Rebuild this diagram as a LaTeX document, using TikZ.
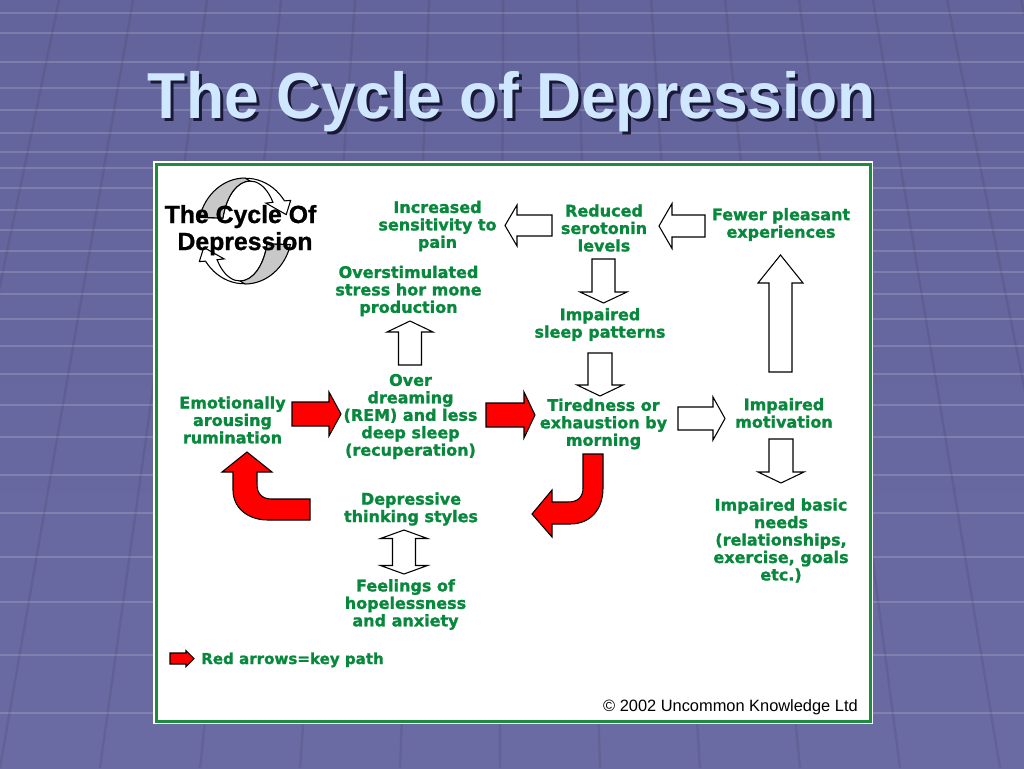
\documentclass[tikz,border=0pt]{standalone}
\usepackage{fontspec}
\newfontfamily\djfont{DejaVu Sans}[BoldFeatures={FakeBold=1.3}]
\newfontfamily\libfont{Liberation Sans}
\newfontfamily\libheavy{Liberation Sans}[BoldFeatures={FakeBold=1.0}]
\definecolor{tgreen}{RGB}{8,136,60}
\definecolor{bgtop}{RGB}{100,100,156}
\definecolor{bgmid}{RGB}{80,80,130}
\definecolor{bgbot}{RGB}{107,107,163}
\definecolor{panelgreen}{RGB}{30,140,60}
\definecolor{titleblue}{RGB}{208,232,255}
\definecolor{titleshadow}{RGB}{25,25,55}
\definecolor{ribbongray}{RGB}{200,200,200}
\tikzset{
  lbl/.style={font=\djfont\bfseries\fontsize{12}{13.1}\selectfont, text=tgreen, align=center, inner sep=0pt},
  hollow/.style={fill=white, draw=black, line width=0.8pt, line join=miter},
  redarr/.style={fill=red, draw=black, line width=0.8pt, line join=miter},
  gridh/.style={white, opacity=0.16, line width=1.3pt},
  gridd/.style={black, opacity=0.08, line width=1.8pt},
  pics/barrow/.style args={#1/#2/#3/#4/#5}{code={
    \path[#5] (0,-#2) -- ({#1-#4},-#2) -- ({#1-#4},-#3) -- (#1,0) -- ({#1-#4},#3) -- ({#1-#4},#2) -- (0,#2) -- cycle;}},
  pics/dbarrow/.style args={#1/#2/#3/#4/#5}{code={
    \path[#5] (0,0) -- (#4,-#3) -- (#4,-#2) -- ({#1-#4},-#2) -- ({#1-#4},-#3) -- (#1,0) -- ({#1-#4},#3) -- ({#1-#4},#2) -- (#4,#2) -- (#4,#3) -- cycle;}},
}
\begin{document}
\begin{tikzpicture}[x=0.75pt,y=-0.75pt]
\useasboundingbox (0,0) rectangle (1024,768);
% background
\shade[top color=bgtop, middle color=bgmid, bottom color=bgbot] (0,0) rectangle (1024,768);
\begin{scope}
  \clip (0,0) rectangle (1024,768);
  \foreach \yy in {13,33,62,88,110,133,152,168,188,210,230,251,272,294,319,346,374,405,437,475,513,557,602,655,713}
    \draw[gridh] (0,\yy) -- (1024,\yy);
  \foreach \xb in {-300,-200,...,1400}
    \draw[gridd] (\xb,768) -- ({512+(\xb-512)*0.74},0);
\end{scope}
% title
\node[font=\libfont\bfseries\fontsize{48.75}{52}\selectfont, text=titleshadow, anchor=base, inner sep=0pt] (titleshadow) at (515,121) {\scalebox{0.96}[1]{The Cycle of Depression}};
\node[font=\libfont\bfseries\fontsize{48.75}{52}\selectfont, text=titleblue, anchor=base, inner sep=0pt] (title) at (512,118) {\scalebox{0.96}[1]{The Cycle of Depression}};
% panel
\fill[white] (153,161) rectangle (873,724);
\draw[panelgreen, line width=2.25pt] (156,164) rectangle (870,721);
% logo cycle
\path[hollow] (200.57,217.54) arc[start angle=195,end angle=325,x radius=47,y radius=53] -- (290.7,200.4) -- (286.2,214.6) -- (265.9,203.1) -- (272.94,202.32) arc[start angle=325,end angle=195,x radius=28,y radius=50] -- cycle;
\path[fill=ribbongray, draw=black, line width=0.8pt] (199.6,217.3) arc[start angle=195,end angle=270,x radius=47,y radius=53] -- (250,181) arc[start angle=270,end angle=195,x radius=28,y radius=50] -- cycle;
\begin{scope}[rotate around={180:(245,231)}]
\path[hollow] (200.57,217.54) arc[start angle=195,end angle=325,x radius=47,y radius=53] -- (290.7,200.4) -- (286.2,214.6) -- (265.9,203.1) -- (272.94,202.32) arc[start angle=325,end angle=195,x radius=28,y radius=50] -- cycle;
\path[fill=ribbongray, draw=black, line width=0.8pt] (199.6,217.3) arc[start angle=195,end angle=270,x radius=47,y radius=53] -- (250,181) arc[start angle=270,end angle=195,x radius=28,y radius=50] -- cycle;
\end{scope}
\node[font=\libheavy\bfseries\fontsize{18.6}{20}\selectfont, anchor=base, inner sep=0pt] (logo1) at (240.5,223) {The Cycle Of};
\node[font=\libheavy\bfseries\fontsize{18.6}{20}\selectfont, anchor=base, inner sep=0pt] (logo2) at (245,250) {Depression};
% text nodes
\node[lbl] (inc) at (437.5,226) {Increased\\sensitivity to\\pain};
\node[lbl] (red) at (604,228) {Reduced\\serotonin\\levels};
\node[lbl] (few) at (781,224.5) {Fewer pleasant\\experiences};
\node[lbl] (ovs) at (408.5,291) {Overstimulated\\stress hor mone\\production};
\node[lbl] (isl) at (600,324.5) {Impaired\\sleep patterns};
\node[lbl] (ovd) at (410.5,416.5) {Over\\dreaming\\(REM) and less\\deep sleep\\(recuperation)};
\node[lbl] (emo) at (232.5,420) {Emotionally\\arousing\\rumination};
\node[lbl] (tir) at (603.5,424) {Tiredness or\\exhaustion by\\morning};
\node[lbl] (imo) at (784,413) {Impaired\\motivation};
\node[lbl] (dep) at (411,509) {Depressive\\thinking styles};
\node[lbl] (ibn) at (781,540.5) {Impaired basic\\needs\\(relationships,\\exercise, goals\\etc.)};
\node[lbl] (fee) at (405.5,604.5) {Feelings of\\hopelessness\\and anxiety};
% hollow arrows
\pic[rotate=180] (a1) at (552,225.5) {barrow=47/10.5/20.5/12/hollow};
\pic[rotate=180] (a2) at (705,226) {barrow=46/11/22.5/13/hollow};
\pic[rotate=-90] (a3) at (603.5,259) {barrow=44/11.5/23.5/11/hollow};
\pic[rotate=90] (a4) at (780.5,372) {barrow=117/11.5/22.5/28/hollow};
\pic[rotate=-90] (a5) at (600,353) {barrow=43/12/23/11/hollow};
\pic (a6) at (678,418.5) {barrow=47/11.5/21.5/12/hollow};
\pic[rotate=-90] (a7) at (781,439) {barrow=44/12/23/11/hollow};
\pic[rotate=90] (a8) at (410,365) {barrow=44/11.5/23/11/hollow};
\pic[rotate=-90] (a9) at (404,530) {dbarrow=44/11.5/23.5/8.5/hollow};
% red arrows
\pic (r1) at (292,414) {barrow=49/12/22/12/redarr};
\pic (r2) at (486,415) {barrow=49/12/23/11/redarr};
\path[redarr] (310,499) -- (272,499) .. controls (262,499) and (257,494) .. (257,484) -- (257,472) -- (272,472) -- (247,452) -- (222,472) -- (233,472) -- (233,490) .. controls (233,508) and (248,520) .. (268,520) -- (310,520) -- cycle;
\path[redarr] (583,454) -- (603,454) -- (603,488) .. controls (603,510) and (590,524) .. (570,524) -- (552,524) -- (552,537) -- (532,514) -- (552,490) -- (552,502) -- (568,502) .. controls (578,502) and (583,497) .. (583,488) -- cycle;
% legend
\pic (lg) at (170,658.5) {barrow=24/5.5/8/8/redarr};
\node[font=\djfont\bfseries\fontsize{11.3}{13}\selectfont, text=tgreen, anchor=base west, inner sep=0pt] (legend) at (201,664) {Red arrows=key path};
% copyright
\node[font=\libfont\fontsize{12.3}{14}\selectfont, anchor=base east, inner sep=0pt] (copy) at (858,711.5) {© 2002 Uncommon Knowledge Ltd};
\end{tikzpicture}
\end{document}
